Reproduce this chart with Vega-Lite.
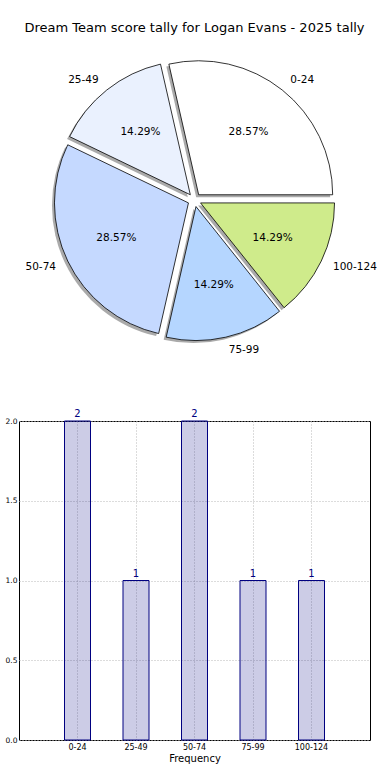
{
  "$schema": "https://vega.github.io/schema/vega-lite/v6.json",
  "padding": {"left": 4, "top": 22, "right": 0, "bottom": 0},
  "bounds": "flush",
  "spacing": 76,
  "title": {"text": "Dream Team score tally for Logan Evans - 2025 tally", "fontSize": 13, "fontWeight": "normal", "font": "DejaVu Sans", "color": "#000", "offset": 20, "anchor": "middle", "frame": "group"},
  "config": {"font": "DejaVu Sans", "view": {"stroke": null}},
  "data": {"values": [
    {"range": "0-24", "idx": 0, "count": 2},
    {"range": "25-49", "idx": 1, "count": 1},
    {"range": "50-74", "idx": 2, "count": 2},
    {"range": "75-99", "idx": 3, "count": 1},
    {"range": "100-124", "idx": 4, "count": 1}
  ]},
  "vconcat": [
    {
      "width": 351,
      "height": 290,
      "transform": [
        {"joinaggregate": [{"op": "sum", "field": "count", "as": "total"}]},
        {"window": [{"op": "sum", "field": "count", "as": "cum"}], "sort": [{"field": "idx", "order": "descending"}], "frame": [null, 0]},
        {"calculate": "(datum.cum - datum.count/2)/datum.total*2*PI + PI/2", "as": "mid"},
        {"calculate": "format(datum.count/datum.total*100, '.2f') + '%'", "as": "pct"}
      ],
      "encoding": {
        "theta": {"field": "count", "type": "quantitative", "stack": true, "scale": {"range": [1.5707963, 7.8539816]}},
        "order": {"field": "idx", "type": "quantitative", "sort": "descending"}
      },
      "layer": [
        {"mark": {"type": "arc", "outerRadius": 134, "fill": "#555555", "fillOpacity": 0.5, "stroke": null, "xOffset": {"expr": "6.7*sin(datum.mid)-2.5"}, "yOffset": {"expr": "-6.7*cos(datum.mid)+2.5"}}},
        {"mark": {"type": "arc", "outerRadius": 134, "stroke": "#000", "strokeWidth": 0.8, "xOffset": {"expr": "6.7*sin(datum.mid)"}, "yOffset": {"expr": "-6.7*cos(datum.mid)"}},
          "encoding": {"color": {"field": "range", "type": "nominal", "scale": {"domain": ["0-24", "25-49", "50-74", "75-99", "100-124"], "range": ["#ffffff", "#eaf1fe", "#c5d9ff", "#b5d6ff", "#cfeb8b"]}, "legend": null}}},
        {"mark": {"type": "text", "radius": 80, "fontSize": 10.5, "color": "#000", "xOffset": {"expr": "6.7*sin(datum.mid)"}, "yOffset": {"expr": "-6.7*cos(datum.mid)"}},
          "encoding": {"text": {"field": "pct"}}},
        {"mark": {"type": "text", "radius": 147, "fontSize": 10.5, "color": "#000", "baseline": "middle", "align": {"expr": "sin(datum.mid) > 0 ? 'left' : 'right'"}, "xOffset": {"expr": "6.7*sin(datum.mid)"}, "yOffset": {"expr": "-6.7*cos(datum.mid)"}},
          "encoding": {"text": {"field": "range"}}}
      ]
    },
    {
      "width": 351,
      "height": 319,
      "view": {"stroke": "#000", "strokeWidth": 1},
      "encoding": {
        "x": {"field": "range", "type": "nominal", "sort": {"field": "idx", "op": "min"}, "scale": {"paddingInner": 0.556, "paddingOuter": 0.778},
          "axis": {"title": "Frequency", "labelAngle": 0, "labelFontSize": 8, "labelColor": "#000", "titleFontSize": 10, "titleFontWeight": "normal", "titleColor": "#000", "grid": true, "gridDash": [1, 2], "gridColor": "#b8b8b8", "bandPosition": 0.5, "domain": false, "ticks": false, "labelPadding": 3, "titlePadding": 2}},
        "y": {"field": "count", "type": "quantitative", "scale": {"domain": [0, 2]},
          "axis": {"title": null, "values": [0, 0.5, 1, 1.5, 2], "format": ".1f", "labelFontSize": 7.5, "labelColor": "#000", "grid": true, "gridDash": [1, 2], "gridColor": "#b8b8b8", "domain": false, "ticks": false, "labelPadding": 2}}
      },
      "layer": [
        {"mark": {"type": "bar", "size": 26, "fill": "#000080", "fillOpacity": 0.2, "stroke": "#000080", "strokeWidth": 1}},
        {"mark": {"type": "text", "dy": -2, "baseline": "bottom", "color": "#000080", "fontSize": 10}, "encoding": {"text": {"field": "count"}}}
      ]
    }
  ]
}
